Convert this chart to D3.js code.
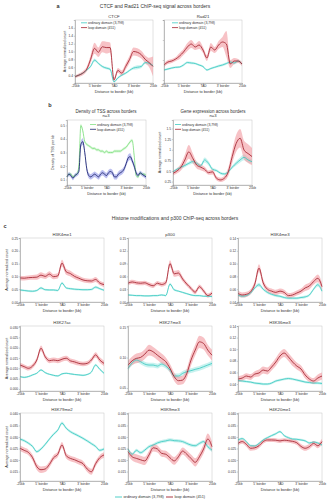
<!DOCTYPE html>
<html>
<head>
<meta charset="utf-8">
<script src="https://cdn.jsdelivr.net/npm/d3@7"></script>
<style>
  body { margin: 0; background: #fff; }
  svg text { font-family: "Liberation Sans", Arial, sans-serif; fill: #333; }
</style>
</head>
<body>
<div id="chart"></div>
<script>
const xLabels = ["-25kb", "5' border", "TAD", "3' border", "25kb"];
const legendNames = ["ordinary domain (3,798)", "loop domain (451)"];

// a: CTCF
const ctcfOrd = [0.36,0.40,0.45,0.53,0.62,0.78,0.70,0.62,0.58,0.55,0.23,0.33,0.40,0.45,0.52,0.58,0.60,0.62,0.72,0.70,0.64];
const ctcfOrdErr = [0.02,0.02,0.02,0.02,0.03,0.04,0.03,0.03,0.03,0.03,0.02,0.03,0.03,0.03,0.03,0.04,0.05,0.04,0.04,0.04,0.04];
const ctcfLoop = [0.36,0.40,0.45,0.55,0.80,1.08,0.98,1.12,1.10,1.10,0.28,0.52,0.45,0.62,0.80,1.00,0.98,0.92,0.80,0.72,0.62];
const ctcfLoopErr = [0.03,0.04,0.05,0.06,0.10,0.14,0.12,0.14,0.15,0.13,0.05,0.06,0.07,0.08,0.09,0.10,0.10,0.10,0.10,0.12,0.25];
const ctcfTicks = [0.4,0.6,0.8,1.0,1.2,1.4,1.6];

// a: Rad21
const radOrd = [0.70,0.71,0.72,0.727,0.73,0.75,0.775,0.77,0.765,0.75,0.735,0.70,0.715,0.727,0.74,0.75,0.765,0.78,0.77,0.79,0.76];
const radOrdErr = [0.01,0.01,0.01,0.01,0.01,0.012,0.012,0.012,0.01,0.01,0.01,0.01,0.01,0.01,0.012,0.012,0.012,0.012,0.015,0.015,0.015];
const radLoop = [0.75,0.78,0.79,0.81,0.84,0.88,0.93,0.96,0.93,0.95,0.90,0.82,0.93,0.90,0.95,0.98,0.96,0.76,0.79,0.79,0.76];
const radLoopErr = [0.02,0.02,0.02,0.02,0.03,0.03,0.04,0.04,0.03,0.04,0.03,0.03,0.04,0.03,0.04,0.05,0.13,0.04,0.03,0.02,0.02];
const radTicks = [0.6,0.8,1.0,1.2];

// b: TSS density
const tssOrd = [0.12,0.14,0.14,0.12,0.13,0.14,0.20,0.50,0.46,0.38,0.36,0.35,0.34,0.33,0.33,0.32,0.32,0.31,0.31,0.30,0.31,0.30,0.30,0.30,0.31,0.31,0.31,0.31,0.32,0.33,0.34,0.36,0.38,0.39,0.28,0.13,0.12,0.15,0.14,0.14,0.13];
const tssOrdErr = [0.01,0.01,0.01,0.01,0.01,0.01,0.01,0.012,0.012,0.01,0.01,0.01,0.01,0.01,0.01,0.01,0.01,0.01,0.01,0.01,0.01,0.01,0.01,0.01,0.01,0.01,0.01,0.01,0.01,0.01,0.01,0.01,0.012,0.012,0.012,0.01,0.01,0.01,0.01,0.01,0.01];
const tssLoop = [0.12,0.14,0.13,0.11,0.13,0.14,0.16,0.36,0.38,0.30,0.18,0.13,0.12,0.13,0.14,0.13,0.12,0.14,0.15,0.14,0.13,0.15,0.16,0.15,0.12,0.12,0.14,0.15,0.16,0.18,0.22,0.26,0.27,0.24,0.20,0.15,0.13,0.15,0.14,0.13,0.12];
const tssLoopErr = [0.015,0.015,0.015,0.015,0.015,0.015,0.02,0.025,0.025,0.02,0.02,0.02,0.02,0.02,0.02,0.02,0.02,0.02,0.02,0.02,0.02,0.02,0.02,0.02,0.02,0.02,0.02,0.02,0.02,0.02,0.02,0.025,0.025,0.02,0.02,0.02,0.015,0.015,0.015,0.015,0.015];
const tssTicks = [0.1,0.2,0.3,0.4,0.5];

// b: gene expression
const geneOrd = [0.48,0.54,0.59,0.63,0.68,0.72,0.68,0.62,0.76,0.68,0.54,0.51,0.45,0.43,0.48,0.59,0.68,0.76,0.82,0.76,0.72];
const geneOrdErr = [0.03,0.03,0.03,0.04,0.04,0.05,0.05,0.04,0.06,0.05,0.04,0.03,0.03,0.03,0.03,0.04,0.05,0.06,0.07,0.06,0.05];
const geneLoop = [0.445,0.50,0.59,0.76,0.95,0.80,0.64,0.59,0.54,0.46,0.48,0.33,0.29,0.33,0.48,0.84,1.15,1.27,0.99,0.91,0.84];
const geneLoopErr = [0.05,0.06,0.08,0.12,0.16,0.12,0.08,0.07,0.06,0.05,0.06,0.05,0.05,0.06,0.10,0.15,0.20,0.22,0.22,0.22,0.20];
const geneTicks = [0.25,0.5,0.75,1,1.25,1.5];

// c: histone marks and p300
const k4me1Ord = [0.047,0.045,0.043,0.042,0.045,0.055,0.048,0.047,0.047,0.045,0.074,0.055,0.052,0.050,0.049,0.048,0.048,0.049,0.058,0.052,0.046];
const k4me1OrdErr = [0.004,0.004,0.004,0.004,0.004,0.005,0.004,0.004,0.004,0.004,0.005,0.004,0.004,0.004,0.004,0.004,0.004,0.004,0.005,0.004,0.004];
const k4me1Loop = [0.094,0.093,0.095,0.096,0.097,0.105,0.100,0.109,0.099,0.102,0.152,0.118,0.111,0.100,0.093,0.086,0.083,0.082,0.088,0.074,0.068];
const k4me1LoopErr = [0.009,0.009,0.009,0.009,0.01,0.011,0.01,0.011,0.01,0.01,0.013,0.012,0.011,0.01,0.01,0.009,0.009,0.009,0.01,0.009,0.009];
const k4me1Ticks = [0,0.05,0.10,0.15,0.20,0.25];

const p300Ord = [0.0165,0.0158,0.015,0.015,0.0143,0.0143,0.015,0.015,0.0165,0.015,0.042,0.0285,0.0255,0.0225,0.0195,0.0165,0.015,0.015,0.0135,0.0135,0.0128];
const p300OrdErr = [0.002,0.002,0.002,0.002,0.002,0.002,0.002,0.002,0.002,0.002,0.003,0.003,0.002,0.002,0.002,0.002,0.002,0.002,0.002,0.002,0.002];
const p300Loop = [0.044,0.047,0.045,0.044,0.045,0.041,0.038,0.044,0.041,0.045,0.090,0.066,0.068,0.054,0.042,0.032,0.023,0.036,0.026,0.015,0.021];
const p300LoopErr = [0.005,0.005,0.005,0.005,0.005,0.005,0.005,0.005,0.005,0.006,0.008,0.007,0.007,0.006,0.005,0.005,0.005,0.005,0.005,0.005,0.005];
const p300Ticks = [0,0.03,0.06,0.09,0.12,0.15];

const k4me3Ord = [0.051,0.049,0.050,0.054,0.062,0.067,0.060,0.055,0.052,0.050,0.049,0.047,0.046,0.046,0.046,0.047,0.048,0.051,0.060,0.067,0.057];
const k4me3OrdErr = [0.002,0.002,0.002,0.002,0.002,0.003,0.002,0.002,0.002,0.002,0.002,0.002,0.002,0.002,0.002,0.002,0.002,0.002,0.002,0.003,0.002];
const k4me3Loop = [0.0535,0.051,0.052,0.056,0.068,0.093,0.070,0.060,0.057,0.055,0.057,0.055,0.050,0.051,0.054,0.057,0.062,0.065,0.072,0.077,0.064];
const k4me3LoopErr = [0.004,0.004,0.004,0.004,0.005,0.006,0.005,0.004,0.004,0.004,0.004,0.004,0.004,0.004,0.004,0.004,0.005,0.005,0.005,0.006,0.006];
const k4me3Ticks = [0.04,0.06,0.08,0.10,0.12,0.14];

const k27acOrd = [0.0060,0.0056,0.0060,0.0068,0.0076,0.0092,0.0079,0.0071,0.0066,0.0063,0.0073,0.0076,0.0073,0.0070,0.0068,0.0066,0.0070,0.0082,0.0116,0.0095,0.0076];
const k27acOrdErr = [0.0004,0.0004,0.0004,0.0004,0.0004,0.0005,0.0004,0.0004,0.0004,0.0004,0.0004,0.0004,0.0004,0.0004,0.0004,0.0004,0.0004,0.0005,0.0006,0.0005,0.0005];
const k27acLoop = [0.0116,0.0108,0.0100,0.0111,0.0140,0.0197,0.0156,0.0137,0.0140,0.0137,0.0144,0.0149,0.0136,0.0131,0.0124,0.0121,0.0124,0.0140,0.0165,0.0140,0.0124];
const k27acLoopErr = [0.0011,0.0011,0.0011,0.0011,0.0012,0.0014,0.0012,0.0012,0.0012,0.0012,0.0012,0.0012,0.0012,0.0012,0.0011,0.0011,0.0011,0.0012,0.0013,0.0013,0.0013];
const k27acTicks = [0,0.005,0.010,0.015,0.020,0.025,0.030];

const k27me3Ord = [0.0823,0.0915,0.0959,0.0932,0.0893,0.0877,0.0877,0.086,0.0893,0.086,0.0795,0.0697,0.0697,0.074,0.0768,0.0785,0.0806,0.0823,0.085,0.0877,0.0904];
const k27me3OrdErr = [0.004,0.004,0.004,0.004,0.004,0.004,0.004,0.004,0.004,0.004,0.004,0.004,0.004,0.004,0.004,0.004,0.004,0.004,0.004,0.004,0.004];
const k27me3Loop = [0.0877,0.0948,0.0987,0.1003,0.1057,0.1123,0.1095,0.104,0.0987,0.0932,0.0823,0.0686,0.062,0.063,0.074,0.0959,0.1123,0.1259,0.1232,0.1123,0.104];
const k27me3LoopErr = [0.007,0.007,0.008,0.008,0.008,0.009,0.008,0.008,0.008,0.007,0.007,0.007,0.007,0.007,0.008,0.009,0.009,0.01,0.01,0.009,0.009];
const k27me3Ticks = [0.05,0.10,0.15];

const k36Ord = [0.046,0.0452,0.0443,0.0434,0.0417,0.0409,0.040,0.040,0.0417,0.0452,0.0469,0.0486,0.0495,0.0486,0.0469,0.0452,0.0434,0.0426,0.0417,0.0417,0.0409];
const k36OrdErr = [0.002,0.002,0.002,0.002,0.002,0.002,0.002,0.002,0.002,0.002,0.002,0.002,0.002,0.002,0.002,0.002,0.002,0.002,0.002,0.002,0.002];
const k36Loop = [0.0486,0.0503,0.0538,0.0521,0.0572,0.059,0.0641,0.0624,0.0693,0.0779,0.0883,0.0934,0.0866,0.0779,0.071,0.0659,0.0555,0.0486,0.0452,0.0503,0.0538];
const k36LoopErr = [0.005,0.005,0.005,0.005,0.005,0.006,0.006,0.006,0.006,0.007,0.007,0.007,0.007,0.007,0.006,0.006,0.006,0.005,0.005,0.006,0.006];
const k36Ticks = [0.04,0.06,0.08,0.10,0.12,0.14];

const k79Ord = [0.0291,0.0284,0.0273,0.0259,0.0236,0.0248,0.0268,0.0291,0.0312,0.0330,0.0360,0.0338,0.0323,0.0313,0.0304,0.0294,0.0283,0.0271,0.0259,0.0242,0.0248];
const k79OrdErr = [0.0006,0.0006,0.0006,0.0006,0.0006,0.0006,0.0006,0.0006,0.0006,0.0006,0.0007,0.0006,0.0006,0.0006,0.0006,0.0006,0.0006,0.0006,0.0006,0.0006,0.0006];
const k79Loop = [0.0251,0.0242,0.0233,0.0210,0.0171,0.0158,0.0161,0.0181,0.0210,0.0225,0.0265,0.0219,0.0207,0.0201,0.0193,0.0184,0.0161,0.0149,0.0184,0.0210,0.0222];
const k79LoopErr = [0.0012,0.0012,0.0012,0.0013,0.0014,0.0014,0.0013,0.0013,0.0012,0.0012,0.0013,0.0012,0.0012,0.0012,0.0012,0.0012,0.0013,0.0013,0.0012,0.0012,0.0012];

const k9Ord = [0.0248,0.0225,0.0242,0.0232,0.0243,0.0258,0.0265,0.0274,0.0280,0.0283,0.0287,0.0284,0.0283,0.0280,0.0272,0.0265,0.0262,0.0272,0.0280,0.0258,0.0243];
const k9OrdErr = [0.0007,0.0007,0.0007,0.0007,0.0007,0.0007,0.0007,0.0007,0.0007,0.0007,0.0007,0.0007,0.0007,0.0007,0.0007,0.0007,0.0007,0.0007,0.0007,0.0008,0.0008];
const k9Loop = [0.0236,0.0214,0.0207,0.0201,0.0196,0.0222,0.0253,0.0248,0.0229,0.0225,0.0210,0.0196,0.0214,0.0239,0.0225,0.0207,0.0190,0.0214,0.0248,0.0291,0.0258];
const k9LoopErr = [0.0015,0.0016,0.0018,0.0018,0.0018,0.0017,0.0016,0.0015,0.0015,0.0015,0.0016,0.0017,0.0016,0.0015,0.0016,0.0017,0.0018,0.0018,0.0020,0.0024,0.0022];

const k20Ord = [0.0287,0.0293,0.0280,0.0262,0.0261,0.0272,0.0287,0.0297,0.0306,0.0314,0.0323,0.0306,0.0297,0.0291,0.0290,0.0287,0.0283,0.0274,0.0278,0.0274,0.0265];
const k20OrdErr = [0.0005,0.0005,0.0005,0.0005,0.0005,0.0005,0.0005,0.0005,0.0005,0.0005,0.0005,0.0005,0.0005,0.0005,0.0005,0.0005,0.0005,0.0005,0.0005,0.0005,0.0005];
const k20Loop = [0.0272,0.0280,0.0268,0.0251,0.0253,0.0262,0.0280,0.0287,0.0287,0.0286,0.0283,0.0286,0.0284,0.0281,0.0275,0.0259,0.0251,0.0258,0.0272,0.0262,0.0280];
const k20LoopErr = [0.0009,0.0009,0.0010,0.0011,0.0011,0.0010,0.0009,0.0009,0.0009,0.0009,0.0009,0.0009,0.0009,0.0009,0.0010,0.0011,0.0011,0.0011,0.0010,0.0011,0.0012];
const row3Ticks = [0.015,0.020,0.025,0.030,0.035,0.040];

const cyan = { line: "#3dcac2", fill: "#a3e9e5" };
const red = { line: "#a3222e", fill: "#f29aa0" };
const green = { line: "#84e084", fill: "#b9f1b9" };
const navy = { line: "#1a226c", fill: "#9094e6" };

const svg = d3.select("#chart").append("svg")
    .attr("width", 327)
    .attr("height", 500);

function txt(x, y, s, size, opts = {}) {
    const t = svg.append("text")
        .attr("x", x).attr("y", y)
        .attr("text-anchor", opts.anchor || "middle")
        .style("font-size", size + "px")
        .text(s);
    if (opts.bold) t.style("font-weight", "bold");
    if (opts.rotate) t.attr("transform", `rotate(-90,${x},${y})`);
    return t;
}

function plot(c) {
    const g = svg.append("g");
    const n = c.series[0].v.length;
    const x = d3.scaleLinear().domain([0, n - 1]).range([c.x0, c.x1]);
    const y = d3.scaleLinear().domain(c.dom).range([c.y1, c.y0]);

    g.append("rect")
        .attr("x", c.x0).attr("y", c.y0)
        .attr("width", c.x1 - c.x0).attr("height", c.y1 - c.y0)
        .attr("fill", "none").attr("stroke", "#c4c4c4").attr("stroke-width", 0.5);

    c.series.forEach(s => {
        const area = d3.area()
            .x((d, i) => x(i))
            .y0((d, i) => y(d - s.e[i]))
            .y1((d, i) => y(d + s.e[i]))
            .curve(d3.curveMonotoneX);
        g.append("path").datum(s.v)
            .attr("d", area)
            .attr("fill", s.col.fill)
            .attr("fill-opacity", 0.6);
    });
    c.series.forEach(s => {
        const line = d3.line()
            .x((d, i) => x(i))
            .y(d => y(d))
            .curve(d3.curveMonotoneX);
        g.append("path").datum(s.v)
            .attr("d", line)
            .attr("fill", "none")
            .attr("stroke", s.col.line)
            .attr("stroke-width", 0.85);
    });

    const xa = g.append("g")
        .attr("transform", `translate(0,${c.y1})`)
        .call(d3.axisBottom(x)
            .tickValues([0, 1, 2, 3, 4].map(k => k * (n - 1) / 4))
            .tickFormat((d, i) => xLabels[i])
            .tickSize(1.2).tickPadding(0.8));
    const ya = g.append("g")
        .attr("transform", `translate(${c.x0},0)`)
        .call(d3.axisLeft(y)
            .tickValues(c.ticks)
            .tickFormat(c.noLabels ? "" : c.fmt)
            .tickSize(1.2).tickPadding(0.8));
    [xa, ya].forEach(a => {
        a.select(".domain").attr("stroke", "#888").attr("stroke-width", 0.5);
        a.selectAll(".tick line").attr("stroke", "#888").attr("stroke-width", 0.4);
        a.selectAll(".tick text")
            .style("font-size", "3.2px")
            .style("font-family", "'Liberation Sans', Arial, sans-serif")
            .attr("fill", "#444");
    });

    if (c.title) txt((c.x0 + c.x1) / 2, c.y0 - 2.2, c.title, 4.3);
    txt((c.x0 + c.x1) / 2, c.y1 + 10.3, "Distance to border (kb)", 3.8);
    if (c.ylab) txt(c.ylabX, (c.y0 + c.y1) / 2, c.ylab, 3.6, { rotate: true });

    if (c.legend) {
        c.series.forEach((s, i) => {
            const ly = c.y0 + c.legend.dy + i * 4.8;
            g.append("line")
                .attr("x1", c.x0 + c.legend.dx).attr("x2", c.x0 + c.legend.dx + 6)
                .attr("y1", ly).attr("y2", ly)
                .attr("stroke", s.col.line).attr("stroke-width", 0.8);
            txt(c.x0 + c.legend.dx + 7, ly + 1.2, legendNames[i], 3.4, { anchor: "start" });
        });
    }
}

const f1 = d3.format(".1f"), f2 = d3.format(".2f"), f3 = d3.format(".3f");

// panel a
txt(58, 8, "a", 5.5, { bold: true });
txt(155, 7.5, "CTCF and Rad21 ChIP-seq signal across borders", 5);
plot({ x0: 75, x1: 153, y0: 20, y1: 83, dom: [0.2, 1.8], ticks: ctcfTicks, fmt: f1,
    title: "CTCF", ylab: "Average normalized count", ylabX: 66, legend: { dx: 6, dy: 2.8 },
    series: [{ v: ctcfOrd, e: ctcfOrdErr, col: cyan }, { v: ctcfLoop, e: ctcfLoopErr, col: red }] });
plot({ x0: 164, x1: 242, y0: 20, y1: 83, dom: [0.57, 1.2], ticks: radTicks, fmt: f1, noLabels: true,
    title: "Rad21", legend: { dx: 8, dy: 2.8 },
    series: [{ v: radOrd, e: radOrdErr, col: cyan }, { v: radLoop, e: radLoopErr, col: red }] });

// panel b
txt(50, 107, "b", 5.5, { bold: true });
txt(106, 112.5, "Density of TSS across borders", 4.5);
txt(106, 117.3, "n=3", 4.2);
txt(213, 112.5, "Gene expression across borders", 4.5);
txt(213, 117.3, "n=3", 4.2);
plot({ x0: 67, x1: 146, y0: 120, y1: 185, dom: [0.06, 0.54], ticks: tssTicks, fmt: f1,
    ylab: "Density of TSS per kb", ylabX: 54, legend: { dx: 23, dy: 4.5 },
    series: [{ v: tssOrd, e: tssOrdErr, col: green }, { v: tssLoop, e: tssLoopErr, col: navy }] });
plot({ x0: 173, x1: 252, y0: 120, y1: 185, dom: [0.17, 1.70], ticks: geneTicks, fmt: d3.format(".3~g"),
    ylab: "Average normalized count", ylabX: 161, legend: { dx: 2, dy: 4.5 },
    series: [{ v: geneOrd, e: geneOrdErr, col: cyan }, { v: geneLoop, e: geneLoopErr, col: red }] });

// panel c
txt(5, 228, "c", 5.5, { bold: true });
txt(175, 219.5, "Histone modifications and p300 ChIP-seq across borders", 5);
const cols = [[20, 104], [128, 212], [238, 322]];
const rows = [[238, 302], [326, 391], [413, 481]];
const cPanels = [
    { t: "H3K4me1", r: 0, c: 0, dom: [0, 0.25], ticks: k4me1Ticks, fmt: f2, s: [k4me1Ord, k4me1OrdErr, k4me1Loop, k4me1LoopErr] },
    { t: "p300", r: 0, c: 1, dom: [0, 0.15], ticks: p300Ticks, fmt: f2, s: [p300Ord, p300OrdErr, p300Loop, p300LoopErr] },
    { t: "H3K4me3", r: 0, c: 2, dom: [0.04, 0.14], ticks: k4me3Ticks, fmt: f2, s: [k4me3Ord, k4me3OrdErr, k4me3Loop, k4me3LoopErr] },
    { t: "H3K27ac", r: 1, c: 0, dom: [-0.001, 0.0305], ticks: k27acTicks, fmt: f3, s: [k27acOrd, k27acOrdErr, k27acLoop, k27acLoopErr] },
    { t: "H3K27me3", r: 1, c: 1, dom: [0.045, 0.152], ticks: k27me3Ticks, fmt: f2, s: [k27me3Ord, k27me3OrdErr, k27me3Loop, k27me3LoopErr] },
    { t: "H3K36me3", r: 1, c: 2, dom: [0.028, 0.14], ticks: k36Ticks, fmt: f2, s: [k36Ord, k36OrdErr, k36Loop, k36LoopErr] },
    { t: "H3K79me2", r: 2, c: 0, dom: [0.0109, 0.0404], ticks: row3Ticks, fmt: f3, s: [k79Ord, k79OrdErr, k79Loop, k79LoopErr] },
    { t: "H3K9me3", r: 2, c: 1, dom: [0.0109, 0.0404], ticks: row3Ticks, fmt: f3, s: [k9Ord, k9OrdErr, k9Loop, k9LoopErr] },
    { t: "H4K20me1", r: 2, c: 2, dom: [0.0109, 0.0404], ticks: row3Ticks, fmt: f3, s: [k20Ord, k20OrdErr, k20Loop, k20LoopErr] }
];
cPanels.forEach(p => {
    plot({ x0: cols[p.c][0], x1: cols[p.c][1], y0: rows[p.r][0], y1: rows[p.r][1],
        dom: p.dom, ticks: p.ticks, fmt: p.fmt, title: p.t,
        ylab: p.c === 0 ? "Average normalized count" : null, ylabX: 8,
        series: [{ v: p.s[0], e: p.s[1], col: cyan }, { v: p.s[2], e: p.s[3], col: red }] });
});

// bottom legend
const legY = 497;
svg.append("line").attr("x1", 115).attr("x2", 122).attr("y1", legY).attr("y2", legY)
    .attr("stroke", cyan.line).attr("stroke-width", 0.9);
txt(123.5, legY + 1.3, legendNames[0], 3.8, { anchor: "start" });
svg.append("line").attr("x1", 166).attr("x2", 173).attr("y1", legY).attr("y2", legY)
    .attr("stroke", red.line).attr("stroke-width", 0.9);
txt(174.5, legY + 1.3, legendNames[1], 3.8, { anchor: "start" });
</script>
</body>
</html>
